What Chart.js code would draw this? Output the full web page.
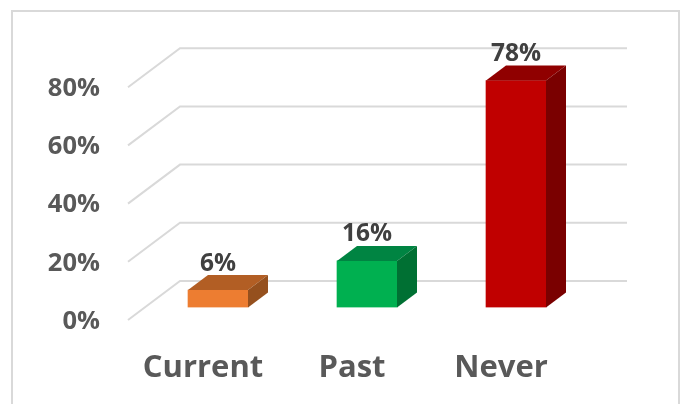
<!DOCTYPE html>
<html>
<head>
<meta charset="utf-8">
<style>
  html, body { margin: 0; padding: 0; background: #fff; overflow: hidden; }
  canvas { display: block; }
</style>
<script src="https://cdn.jsdelivr.net/npm/chart.js@4"></script>
</head>
<body>
<canvas id="chart" width="682" height="404"></canvas>
<script>
const categories = ['Current', 'Past', 'Never'];
const values = [6, 16, 78];
const tickValues = [0, 20, 40, 60, 80];

const frontColors = ['#ED7D31', '#00B050', '#C00000'];
const topColors = ['#B25E24', '#008442', '#900000'];
const sideColors = ['#95501E', '#007033', '#7A0000'];

// 3d look: bars sit in the middle of the floor, labels on its front edge
const barDepth = { x: 20, y: -15 };
const wallBack = { x: 36.5, y: -26.5 };
const wallFront = { x: -15.5, y: 12.5 };

// outer frame, runs off the bottom of the picture
const framePlugin = {
  id: 'frame',
  beforeDraw(chart) {
    const ctx = chart.ctx;
    ctx.save();
    ctx.strokeStyle = '#D9D9D9';
    ctx.lineWidth = 2;
    ctx.strokeRect(12, 11, 667, 420);
    ctx.restore();
  }
};

// gridlines run along the side wall and then the back wall
const wallGridPlugin = {
  id: 'wallGrid',
  beforeDatasetsDraw(chart) {
    const { ctx, chartArea, scales } = chart;
    ctx.save();
    ctx.strokeStyle = '#D9D9D9';
    ctx.lineWidth = 2;
    tickValues.forEach(t => {
      const y = scales.y.getPixelForValue(t);
      ctx.beginPath();
      ctx.moveTo(chartArea.left + wallFront.x, y + wallFront.y);
      ctx.lineTo(chartArea.left + wallBack.x, y + wallBack.y);
      ctx.lineTo(chartArea.right + wallBack.x, y + wallBack.y);
      ctx.stroke();
    });
    ctx.restore();
  }
};

function face(ctx, pts, color) {
  ctx.fillStyle = color;
  ctx.beginPath();
  pts.forEach((p, i) => i ? ctx.lineTo(p[0], p[1]) : ctx.moveTo(p[0], p[1]));
  ctx.closePath();
  ctx.fill();
}

// top and side faces plus the value labels, taken from the bar elements
const bar3dPlugin = {
  id: 'bar3d',
  afterDatasetsDraw(chart) {
    const ctx = chart.ctx;
    const dx = barDepth.x, dy = barDepth.y;
    ctx.save();
    chart.getDatasetMeta(0).data.forEach((bar, i) => {
      const l = bar.x - bar.width / 2, r = bar.x + bar.width / 2;
      face(ctx, [[l, bar.y], [l + dx, bar.y + dy], [r + dx, bar.y + dy], [r, bar.y]], topColors[i]);
      face(ctx, [[r, bar.y], [r + dx, bar.y + dy], [r + dx, bar.base + dy], [r, bar.base]], sideColors[i]);
      ctx.fillStyle = '#404040';
      ctx.font = 'bold 24.5px "Open Sans"';
      ctx.textAlign = 'center';
      ctx.textBaseline = 'middle';
      ctx.fillText(values[i] + '%', bar.x, bar.y - 26.5);
    });
    ctx.restore();
  }
};

new Chart(document.getElementById('chart').getContext('2d'), {
  type: 'bar',
  data: {
    labels: categories,
    datasets: [{
      data: values,
      backgroundColor: frontColors,
      borderWidth: 0,
      barThickness: 60
    }]
  },
  options: {
    responsive: false,
    animation: false,
    layout: { padding: { top: 74.7, right: 91.5, left: 0, bottom: 0 } },
    plugins: { legend: { display: false }, tooltip: { enabled: false } },
    scales: {
      x: {
        grid: { display: false, drawTicks: false },
        border: { display: false },
        afterFit: s => { s.height = 96.5; },
        ticks: {
          color: '#595959',
          font: { family: 'Open Sans', weight: 'bold', size: 31 },
          padding: 42.5,
          labelOffset: -15,
          maxRotation: 0,
          autoSkip: false
        }
      },
      y: {
        min: 0,
        max: 80,
        grid: { display: false, drawTicks: false },
        border: { display: false },
        afterFit: s => { s.width = 143.5; },
        afterBuildTicks: s => { s.ticks = tickValues.map(v => ({ value: v })); },
        ticks: {
          color: '#595959',
          font: { family: 'Open Sans', weight: 'bold', size: 25.5 },
          padding: 43.5,
          labelOffset: 14,
          callback: v => v + '%'
        }
      }
    }
  },
  plugins: [framePlugin, wallGridPlugin, bar3dPlugin]
});
</script>
</body>
</html>
